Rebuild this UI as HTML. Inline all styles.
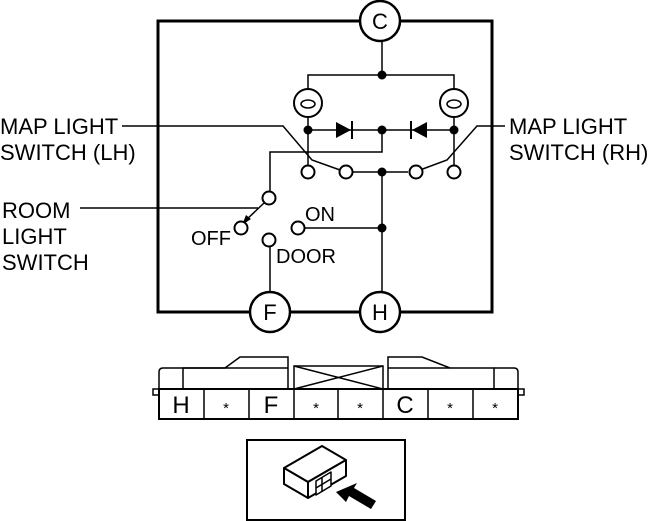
<!DOCTYPE html>
<html><head><meta charset="utf-8"><style>
html,body{margin:0;padding:0;background:#fff;}
svg{display:block;}
text{font-family:"Liberation Sans",Arial,sans-serif;fill:#000;}
</style></head><body>
<svg width="661" height="521" viewBox="0 0 661 521" xmlns="http://www.w3.org/2000/svg">
<g fill="none" stroke="#000">
<rect x="158" y="21" width="334" height="291" stroke-width="3"/>
</g>
<g fill="#fff" stroke="#000" stroke-width="2.5">
<circle cx="380" cy="21" r="20"/>
<circle cx="270" cy="312" r="20"/>
<circle cx="380" cy="312" r="20"/>
</g>
<g font-size="22" text-anchor="middle">
<text x="380" y="29">C</text>
<text x="270" y="320">F</text>
<text x="380" y="320">H</text>
</g>
<g fill="none" stroke="#000" stroke-width="1.5">
<line x1="382" y1="41" x2="382" y2="75"/>
<polyline points="308,89 308,75 454,75 454,89"/>
<line x1="308" y1="117" x2="308" y2="166"/>
<line x1="454" y1="117" x2="454" y2="166"/>
<line x1="308" y1="130" x2="454" y2="130"/>
<polyline points="382,130 382,152 270,152 270,192"/>
<line x1="352" y1="172" x2="408" y2="172"/>
<line x1="382" y1="172" x2="382" y2="292"/>
<line x1="304" y1="228" x2="382" y2="228"/>
<line x1="270" y1="246" x2="270" y2="292"/>
<polyline points="122,126 283,126 312,160 340,170"/>
<polyline points="505,126 477,126 447,160 420,170"/>
<line x1="80" y1="208" x2="258" y2="208"/>
<line x1="264" y1="203" x2="244" y2="222"/>
</g>
<polygon points="242,225 246,215 251,219" fill="#000"/>
<g fill="none" stroke="#000" stroke-width="2">
<circle cx="308" cy="103" r="14"/>
<circle cx="454" cy="103" r="14"/>
<ellipse cx="308" cy="104" rx="7" ry="4" stroke-width="1.5"/>
<ellipse cx="454" cy="104" rx="7" ry="4" stroke-width="1.5"/>
</g>
<polygon points="336,122 336,138 351,130" fill="#000"/>
<line x1="352" y1="121" x2="352" y2="139" stroke="#000" stroke-width="2"/>
<polygon points="427,122 427,138 412,130" fill="#000"/>
<line x1="411" y1="121" x2="411" y2="139" stroke="#000" stroke-width="2"/>
<g fill="#000">
<circle cx="382" cy="75" r="4.5"/>
<circle cx="308" cy="130" r="4.5"/>
<circle cx="382" cy="130" r="4.5"/>
<circle cx="454" cy="130" r="4.5"/>
<circle cx="382" cy="172" r="4.5"/>
<circle cx="382" cy="228" r="4.5"/>
</g>
<g fill="#fff" stroke="#000" stroke-width="2">
<circle cx="308" cy="172" r="6.5"/>
<circle cx="346" cy="172" r="6.5"/>
<circle cx="416" cy="172" r="6.5"/>
<circle cx="454" cy="172" r="6.5"/>
<circle cx="269" cy="198" r="6.5"/>
<circle cx="241" cy="228" r="6.5"/>
<circle cx="298" cy="228" r="6.5"/>
<circle cx="269" cy="240" r="6.5"/>
</g>
<g font-size="22">
<text x="0" y="134">MAP LIGHT</text>
<text x="0" y="160">SWITCH (LH)</text>
<text x="509" y="134">MAP LIGHT</text>
<text x="509" y="160">SWITCH (RH)</text>
<text x="2" y="218">ROOM</text>
<text x="2" y="244">LIGHT</text>
<text x="2" y="270">SWITCH</text>
<text x="191" y="245" font-size="20">OFF</text>
<text x="305" y="221" font-size="20">ON</text>
<text x="276" y="263" font-size="20">DOOR</text>
</g>
<g fill="none" stroke="#000" stroke-width="1.5">
<path d="M159,389 L159,372 Q159,368 163,368 L183,368"/>
<path d="M518,389 L518,372 Q518,368 514,368 L494,368"/>
<polyline points="183,389 183,368 225,368 240,357 288,357 288,389"/>
<line x1="183" y1="368" x2="288" y2="368"/>
<rect x="294" y="366" width="89" height="23"/>
<line x1="294" y1="366" x2="383" y2="389"/>
<line x1="294" y1="389" x2="383" y2="366"/>
<polyline points="388,389 388,357 422,357 450,368 494,368 494,389"/>
<line x1="388" y1="368" x2="450" y2="368"/>
<rect x="153" y="389" width="6" height="6"/>
<rect x="518" y="389" width="6" height="6"/>
<rect x="159" y="389" width="359" height="30" stroke-width="2"/>
<line x1="204" y1="389" x2="204" y2="419"/>
<line x1="249" y1="389" x2="249" y2="419"/>
<line x1="294" y1="389" x2="294" y2="419"/>
<line x1="338" y1="389" x2="338" y2="419"/>
<line x1="383" y1="389" x2="383" y2="419"/>
<line x1="428" y1="389" x2="428" y2="419"/>
<line x1="473" y1="389" x2="473" y2="419"/>
</g>
<g font-size="24" text-anchor="middle">
<text x="181" y="413">H</text>
<text x="271" y="413">F</text>
<text x="405" y="413">C</text>
</g>
<g font-size="15" text-anchor="middle">
<text x="226" y="413">*</text>
<text x="316" y="413">*</text>
<text x="360" y="413">*</text>
<text x="450" y="413">*</text>
<text x="495" y="413">*</text>
</g>
<rect x="247" y="440" width="158" height="80" fill="none" stroke="#000" stroke-width="2"/>
<g fill="#fff" stroke="#000" stroke-width="2" stroke-linejoin="round">
<polygon points="284,468 322,446 346,460 308,482"/>
<polygon points="284,468 308,482 308,498 284,484"/>
<polygon points="308,482 346,460 346,476 308,498"/>
<polygon points="316,481 331,472 331,486 316,495" stroke-width="1.5"/>
<line x1="316" y1="488" x2="331" y2="479" stroke-width="1.5"/>
<line x1="322" y1="478" x2="322" y2="492" stroke-width="1.5"/>
</g>
<polygon points="336,492 357,483 354,488 376,501 371,509 349,496 346,502" fill="#000"/>
</svg>
</body></html>
